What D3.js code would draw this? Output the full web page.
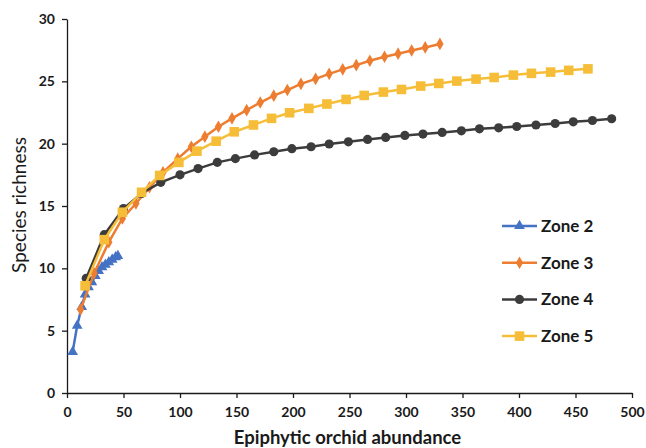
<!DOCTYPE html>
<html>
<head>
<meta charset="utf-8">
<script src="https://cdn.jsdelivr.net/npm/d3@7"></script>
<style>
  body { margin: 0; background: #fff; }
  text { font-family: Lato, "Open Sans", sans-serif; fill: #1a1a1a; }
</style>
</head>
<body>
<div id="chart-container"></div>
<script>
// values
const zone2X = [5, 9, 13, 16, 19, 22, 25, 28, 31, 34, 37, 40, 43, 45];
const zone2Y = [3.3, 5.4, 6.9, 7.9, 8.5, 8.9, 9.4, 9.8, 10.1, 10.3, 10.5, 10.7, 10.9, 11.0];

const zone3X = [12, 24, 37, 49, 61, 73, 85, 98, 110, 122, 134, 146, 159, 171, 183, 195, 207, 220, 232, 244, 256, 268, 281, 293, 305, 317, 330];
const zone3Y = [6.7, 9.6, 12.1, 14.0, 15.2, 16.5, 17.7, 18.8, 19.75, 20.56, 21.36, 22.03, 22.69, 23.3, 23.85, 24.3, 24.8, 25.2, 25.6, 25.96, 26.3, 26.65, 26.97, 27.22, 27.47, 27.72, 28.0];

const zone4X = [17, 33, 50, 66, 83, 100, 116, 133, 149, 166, 183, 199, 216, 232, 249, 266, 282, 299, 315, 332, 349, 365, 382, 398, 415, 432, 448, 465, 482];
const zone4Y = [9.2, 12.7, 14.8, 16.0, 16.9, 17.5, 18.0, 18.5, 18.8, 19.1, 19.35, 19.6, 19.75, 19.97, 20.15, 20.34, 20.5, 20.66, 20.77, 20.9, 21.03, 21.19, 21.27, 21.38, 21.5, 21.62, 21.75, 21.86, 22.0];

const zone5X = [16, 33, 49, 66, 82, 99, 115, 132, 148, 165, 181, 197, 214, 230, 247, 263, 280, 296, 313, 329, 345, 362, 378, 395, 411, 428, 444, 461];
const zone5Y = [8.6, 12.3, 14.5, 16.1, 17.45, 18.5, 19.4, 20.2, 20.95, 21.5, 22.03, 22.48, 22.83, 23.18, 23.55, 23.87, 24.14, 24.35, 24.62, 24.83, 25.02, 25.18, 25.31, 25.5, 25.64, 25.74, 25.88, 26.0];

const xTicks = [0, 50, 100, 150, 200, 250, 300, 350, 400, 450, 500];
const yTicks = [0, 5, 10, 15, 20, 25, 30];

const series = [
  { name: "Zone 2", xs: zone2X, ys: zone2Y, color: "#4472C4", symbol: d3.symbolTriangle, size: 50 },
  { name: "Zone 3", xs: zone3X, ys: zone3Y, color: "#ED7D31", symbol: d3.symbolDiamond, size: 46 },
  { name: "Zone 4", xs: zone4X, ys: zone4Y, color: "#3C3C3C", symbol: d3.symbolCircle, size: 66 },
  { name: "Zone 5", xs: zone5X, ys: zone5Y, color: "#F6BE38", symbol: d3.symbolSquare, size: 92 }
];

const W = 646, H = 448;
const margin = { top: 19, right: 14, bottom: 55, left: 67 };
const width = W - margin.left - margin.right;
const height = H - margin.top - margin.bottom;

const svg = d3.select("#chart-container")
  .append("svg")
  .attr("width", W)
  .attr("height", H);

const g = svg.append("g")
  .attr("transform", `translate(${margin.left},${margin.top})`);

const x = d3.scaleLinear().domain([0, 500]).range([0, width]);
const y = d3.scaleLinear().domain([0, 30]).range([height, 0]);

// axes
const xAxis = g.append("g")
  .attr("transform", `translate(0,${height})`)
  .call(d3.axisBottom(x).tickValues(xTicks).tickSize(5).tickSizeOuter(0));
const yAxis = g.append("g")
  .call(d3.axisLeft(y).tickValues(yTicks).tickSize(5).tickSizeOuter(0));

[xAxis, yAxis].forEach(a => {
  a.select(".domain").attr("stroke", "#1a1a1a").attr("stroke-width", 1.3);
  a.selectAll(".tick line").attr("stroke", "#1a1a1a").attr("stroke-width", 1.3);
  a.selectAll(".tick text")
    .style("font-size", "14px")
    .style("font-weight", "700")
    .attr("fill", "#1a1a1a");
});
xAxis.selectAll(".tick text").attr("dy", "1.15em");
yAxis.selectAll(".tick text").attr("x", -12);

// axis titles
svg.append("text")
  .attr("x", margin.left + width / 2 - 2)
  .attr("y", 444)
  .attr("text-anchor", "middle")
  .style("font-size", "18.5px")
  .style("font-weight", "700")
  .text("Epiphytic orchid abundance");

svg.append("text")
  .attr("transform", "translate(26,205) rotate(-90)")
  .attr("text-anchor", "middle")
  .style("font-size", "19px")
  .text("Species richness");

const line = d3.line()
  .x(d => x(d[0]))
  .y(d => y(d[1]));

series.forEach(s => {
  const pts = s.xs.map((v, i) => [v, s.ys[i]]);
  const sg = g.append("g");
  sg.append("path")
    .datum(pts)
    .attr("d", line)
    .attr("fill", "none")
    .attr("stroke", s.color)
    .attr("stroke-width", 2.5);
  sg.selectAll("path.mark")
    .data(pts)
    .enter().append("path")
    .attr("class", "mark")
    .attr("transform", d => `translate(${x(d[0])},${y(d[1])})`)
    .attr("d", d3.symbol().type(s.symbol).size(s.size))
    .attr("fill", s.color);
});

// legend
const legend = svg.append("g").attr("transform", "translate(502,226)");
series.forEach((s, i) => {
  const row = legend.append("g").attr("transform", `translate(0,${i * 36.7})`);
  row.append("line")
    .attr("x1", 0).attr("x2", 35)
    .attr("stroke", s.color)
    .attr("stroke-width", 2.5);
  row.append("path")
    .attr("transform", "translate(17.5,0)")
    .attr("d", d3.symbol().type(s.symbol).size(s.size))
    .attr("fill", s.color);
  row.append("text")
    .attr("x", 39)
    .attr("y", 6)
    .style("font-size", "17px")
    .style("font-weight", "700")
    .text(s.name);
});
</script>
</body>
</html>
